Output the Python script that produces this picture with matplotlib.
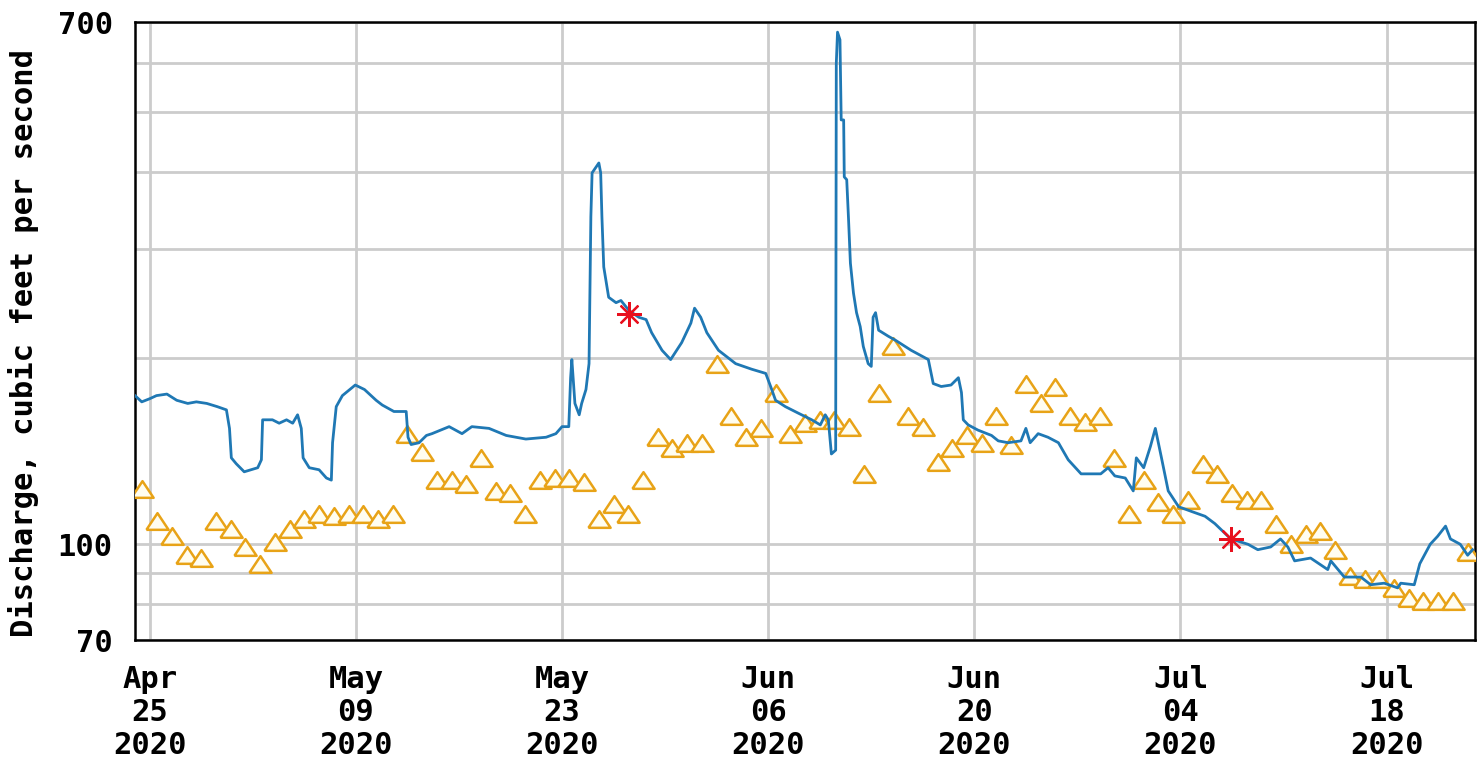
import numpy as np
import pandas as pd
import matplotlib
matplotlib.use("Agg")
import matplotlib.pyplot as plt
import matplotlib.dates as mdates

# instantaneous discharge (cfs)
inst_times = [
    "2020-04-24 00:00", "2020-04-24 11:00", "2020-04-25 00:00", "2020-04-25 11:00",
    "2020-04-26 04:00", "2020-04-26 20:00", "2020-04-27 14:00", "2020-04-28 04:00",
    "2020-04-28 21:00", "2020-04-29 14:00", "2020-04-30 05:00", "2020-04-30 10:00",
    "2020-04-30 13:00", "2020-04-30 21:00", "2020-05-01 10:00", "2020-05-02 08:00",
    "2020-05-02 14:00", "2020-05-02 16:00", "2020-05-03 08:00", "2020-05-03 19:00",
    "2020-05-04 07:00", "2020-05-04 17:00", "2020-05-05 01:00", "2020-05-05 07:00",
    "2020-05-05 10:00", "2020-05-05 20:00", "2020-05-06 12:00", "2020-05-07 00:00",
    "2020-05-07 08:00", "2020-05-07 10:00", "2020-05-07 16:00", "2020-05-08 02:00",
    "2020-05-08 17:00", "2020-05-08 23:00", "2020-05-09 14:00", "2020-05-10 09:00",
    "2020-05-10 19:00", "2020-05-11 14:00", "2020-05-12 10:00", "2020-05-12 13:00",
    "2020-05-12 18:00", "2020-05-13 07:00", "2020-05-13 19:00", "2020-05-14 04:00",
    "2020-05-15 08:00", "2020-05-16 05:00", "2020-05-16 21:00", "2020-05-18 01:00",
    "2020-05-19 05:00", "2020-05-20 13:00", "2020-05-21 22:00", "2020-05-22 14:00",
    "2020-05-23 00:00", "2020-05-23 11:00", "2020-05-23 14:00", "2020-05-23 16:00",
    "2020-05-23 21:00", "2020-05-24 04:00", "2020-05-24 08:00", "2020-05-24 15:00",
    "2020-05-24 20:00", "2020-05-24 23:00", "2020-05-25 01:00", "2020-05-25 12:00",
    "2020-05-25 15:00", "2020-05-25 17:00", "2020-05-25 20:00", "2020-05-26 04:00",
    "2020-05-26 16:00", "2020-05-27 00:00", "2020-05-27 13:00", "2020-05-28 05:00",
    "2020-05-28 17:00", "2020-05-29 02:00", "2020-05-29 19:00", "2020-05-30 09:00",
    "2020-05-31 03:00", "2020-05-31 18:00", "2020-06-01 00:00", "2020-06-01 10:00",
    "2020-06-01 20:00", "2020-06-02 15:00", "2020-06-03 19:00", "2020-06-04 21:00",
    "2020-06-05 20:00", "2020-06-06 04:00", "2020-06-06 12:00", "2020-06-07 04:00",
    "2020-06-08 01:00", "2020-06-08 23:00", "2020-06-09 13:00", "2020-06-09 21:00",
    "2020-06-10 02:00", "2020-06-10 07:00", "2020-06-10 14:00", "2020-06-10 15:00",
    "2020-06-10 17:00", "2020-06-10 21:00", "2020-06-10 23:00", "2020-06-11 03:00",
    "2020-06-11 04:00", "2020-06-11 08:00", "2020-06-11 11:00", "2020-06-11 14:00",
    "2020-06-11 19:00", "2020-06-12 00:00", "2020-06-12 06:00", "2020-06-12 11:00",
    "2020-06-12 19:00", "2020-06-13 00:00", "2020-06-13 03:00", "2020-06-13 07:00",
    "2020-06-13 12:00", "2020-06-14 04:00", "2020-06-14 15:00", "2020-06-15 17:00",
    "2020-06-16 21:00", "2020-06-17 05:00", "2020-06-17 18:00", "2020-06-18 10:00",
    "2020-06-18 22:00", "2020-06-19 03:00", "2020-06-19 06:00", "2020-06-19 14:00",
    "2020-06-20 06:00", "2020-06-21 04:00", "2020-06-21 15:00", "2020-06-22 07:00",
    "2020-06-23 04:00", "2020-06-23 12:00", "2020-06-23 19:00", "2020-06-24 08:00",
    "2020-06-25 00:00", "2020-06-25 17:00", "2020-06-26 09:00", "2020-06-27 06:00",
    "2020-06-28 14:00", "2020-06-29 02:00", "2020-06-29 13:00", "2020-06-30 06:00",
    "2020-06-30 19:00", "2020-07-01 00:00", "2020-07-01 12:00", "2020-07-01 23:00",
    "2020-07-02 07:00", "2020-07-02 17:00", "2020-07-03 04:00", "2020-07-03 21:00",
    "2020-07-04 18:00", "2020-07-05 16:00", "2020-07-06 08:00", "2020-07-07 10:00",
    "2020-07-08 14:00", "2020-07-09 06:00", "2020-07-10 03:00", "2020-07-10 19:00",
    "2020-07-11 07:00", "2020-07-11 18:00", "2020-07-12 20:00", "2020-07-14 00:00",
    "2020-07-14 05:00", "2020-07-15 03:00", "2020-07-16 06:00", "2020-07-16 22:00",
    "2020-07-17 20:00", "2020-07-18 18:00", "2020-07-18 23:00", "2020-07-19 21:00",
    "2020-07-20 06:00", "2020-07-20 23:00", "2020-07-21 11:00", "2020-07-22 00:00",
    "2020-07-22 08:00", "2020-07-23 00:00", "2020-07-23 12:00", "2020-07-23 20:00",
]
inst_cfs = [
    174, 170, 172, 174, 175, 171, 169, 170, 169, 167, 165, 154,
    138, 135, 131, 133, 137, 159, 159, 157, 159, 157, 162, 154,
    138, 133, 132, 128, 127, 146, 167, 174, 179, 181, 178, 171,
    168, 164, 164, 149, 145, 146, 150, 151, 155, 151, 155, 154,
    150, 148, 149, 151, 155, 155, 186, 199, 169, 162, 169, 178,
    196, 339, 399, 414, 399, 339, 281, 251, 246, 248, 239, 233,
    231, 220, 206, 199, 212, 228, 241, 233, 220, 206, 196, 192,
    189, 180, 171, 167, 163, 159, 156, 162, 159, 140, 142, 600,
    674, 655, 486, 486, 393, 389, 335, 285, 255, 237, 225, 209,
    196, 194, 233, 237, 222, 217, 214, 206, 199, 182, 180, 181,
    186, 176, 159, 156, 153, 150, 147, 146, 147, 154, 146, 151,
    149, 146, 137, 130, 130, 133, 129, 128, 122, 138, 133, 144,
    154, 138, 122, 115, 113, 111, 108, 102, 100, 98, 99, 102,
    99, 94, 95, 91, 94, 88.5, 88.5, 86, 86.5, 85, 86.5, 86,
    93, 100, 103, 107, 102, 100, 96, 98,
]

# median of daily mean discharge, one per day starting 2020-04-24
median_start = "2020-04-24 12:00"
median_cfs = [
    123, 109, 103, 96, 95, 109, 106, 99, 93, 101,
    106, 110, 112, 111, 112, 112, 110, 112, 151, 141,
    127, 127, 125, 138, 122, 121, 112, 127, 128, 128,
    126, 110, 116, 112, 127, 149, 143, 146, 146, 196,
    161, 149, 154, 176, 151, 157, 159, 159, 155, 130,
    176, 209, 161, 155, 136, 143, 150, 146, 161, 145,
    182, 169, 180, 161, 158, 161, 138, 112, 127, 117,
    112, 118, 135, 130, 121, 118, 118, 108, 100, 104,
    105, 98, 89, 88, 88, 85, 82, 81, 81, 81, 97,
]

# measured discharge
meas_times = ["2020-05-27 13:00", "2020-07-07 10:00"]
meas_cfs = [236, 102]

tick_dates = ["2020-04-25", "2020-05-09", "2020-05-23", "2020-06-06",
              "2020-06-20", "2020-07-04", "2020-07-18"]

t_inst = pd.to_datetime(inst_times)
t_med = pd.date_range(median_start, periods=len(median_cfs), freq="D")
t_meas = pd.to_datetime(meas_times)

font = "DejaVu Sans Mono"
fsize = 22
fig = plt.figure(figsize=(14.78, 7.65), dpi=100)
ax = fig.add_axes([135 / 1478, 1 - 640 / 765, 1340 / 1478, 618 / 765])

tri = [(-1, -0.75), (1, -0.75), (0, 0.75), (-1, -0.75)]
ax.plot(t_med, median_cfs, linestyle="none", marker=tri, markersize=16,
        markerfacecolor="#fffdf0", markeredgecolor="#e8a317", markeredgewidth=1.8,
        zorder=3)
ax.plot(t_inst, inst_cfs, color="#1f78b4", linewidth=2.0, zorder=4)
ax.plot(t_meas, meas_cfs, linestyle="none", marker=(8, 2, 0), markersize=18,
        color="#e8101e", markeredgewidth=1.6, zorder=5)

ax.set_yscale("log")
ax.set_ylim(70, 700)
ax.set_xlim(pd.Timestamp("2020-04-24"), pd.Timestamp("2020-07-24"))

ax.set_yticks([70, 100, 700])
ax.set_yticklabels(["70", "100", "700"])
ax.set_yticks([80, 90, 200, 300, 400, 500, 600], minor=True)
ax.yaxis.set_minor_formatter(matplotlib.ticker.NullFormatter())
ax.set_xticks(pd.to_datetime(tick_dates))
ax.xaxis.set_major_formatter(mdates.DateFormatter("%b\n%d\n%Y"))
ax.xaxis.set_minor_locator(matplotlib.ticker.NullLocator())

ax.grid(True, which="both", color="#cccccc", linewidth=2.0, zorder=0)
ax.set_axisbelow(True)
ax.tick_params(which="both", length=0)
ax.tick_params(axis="y", pad=16)
ax.tick_params(axis="x", pad=18)
for lab in ax.get_xticklabels() + ax.get_yticklabels():
    lab.set_fontfamily(font)
    lab.set_fontweight("bold")
    lab.set_fontsize(fsize)
for lab in ax.get_xticklabels():
    lab.set_linespacing(1.18)

ax.set_ylabel("Discharge, cubic feet per second", fontfamily=font,
              fontweight="bold", fontsize=fsize)
ax.yaxis.set_label_coords(-0.072, 0.48)

for s in ax.spines.values():
    s.set_linewidth(1.8)
    s.set_color("black")

fig.savefig("out.png", dpi=100)
